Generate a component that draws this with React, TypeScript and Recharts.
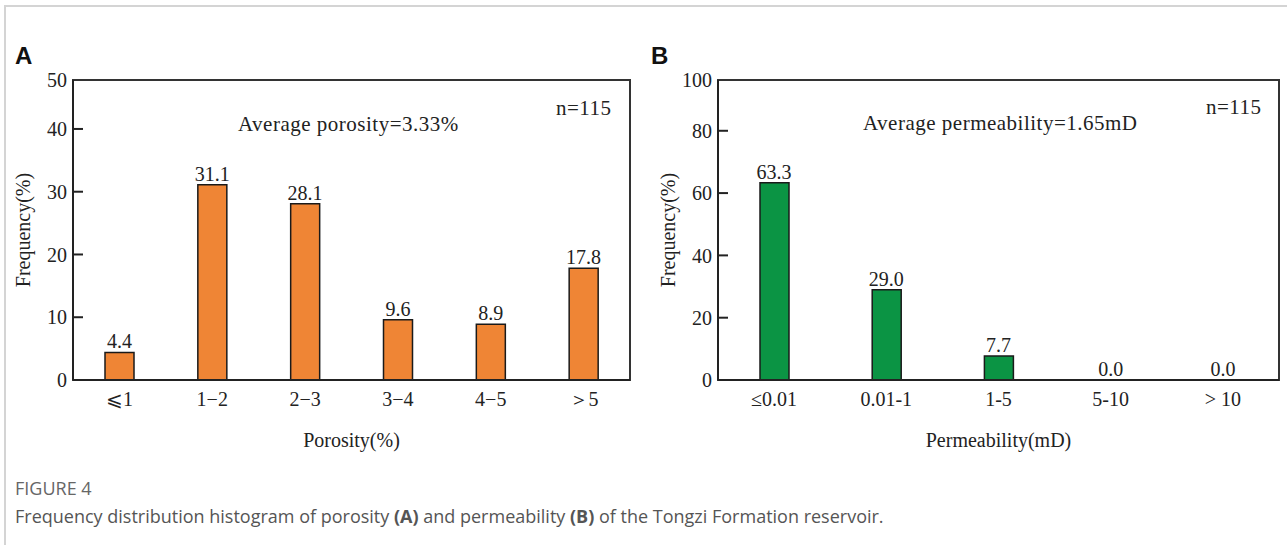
import { ComposedChart, Bar, Line, XAxis, YAxis, LabelList, Label, ReferenceArea } from 'recharts';

// Panel A: porosity
const porosityBins = ['⩽1', '1−2', '2−3', '3−4', '4−5', '＞5'];
const porosityFreq = [4.4, 31.1, 28.1, 9.6, 8.9, 17.8];
// the frame top sits a little below a true 50 in the source figure
const porosityTicks = [0, 10, 20, 30, 40, 47.8];
const porosityTickText = ['0', '10', '20', '30', '40', '50'];

// Panel B: permeability
const permBins = ['≤0.01', '0.01-1', '1-5', '5-10', '> 10'];
const permFreq = [63.3, 29.0, 7.7, 0.0, 0.0];
const permTicks = [0, 20, 40, 60, 80, 96.3];
const permTickText = ['0', '20', '40', '60', '80', '100'];

const SERIF = '"Liberation Serif", "Times New Roman", serif';
const INK = '#222';

function YTick(props: any) {
  const { x, y, payload, ticks, labels } = props;
  const i = ticks.indexOf(payload.value);
  const isTop = i === ticks.length - 1;
  return (
    <g>
      {!isTop && payload.value !== 0 && (
        <line x1={x + 6} x2={x + 16} y1={y} y2={y} stroke={INK} strokeWidth={2} />
      )}
      <text x={x} y={y} dy="0.36em" textAnchor="end" fontFamily={SERIF} fontSize={20} fill={INK}>
        {labels[i]}
      </text>
    </g>
  );
}

interface HistProps {
  bins: string[];
  values: number[];
  ticks: number[];
  tickText: string[];
  color: string;
  xTitle: string;
  width: number;
  marginRight: number;
}

function Histogram({ bins, values, ticks, tickText, color, xTitle, width, marginRight }: HistProps) {
  const data = bins.map((bin, i) => ({ bin, freq: values[i] }));
  const top = ticks[ticks.length - 1];
  return (
    <ComposedChart
      width={width}
      height={470}
      data={data}
      margin={{ top: 80, right: marginRight, bottom: 20, left: 13 }}
      barCategoryGap={0}
    >
      <XAxis
        dataKey="bin"
        height={70}
        tickLine={false}
        tickSize={0}
        tickMargin={12}
        axisLine={{ stroke: INK, strokeWidth: 2 }}
        tick={{ fontFamily: SERIF, fontSize: 20, fill: INK }}
        interval={0}
      >
        <Label
          value={xTitle}
          position="insideBottom"
          offset={3}
          style={{ fontFamily: SERIF, fontSize: 20, fill: INK }}
        />
      </XAxis>
      <YAxis
        type="number"
        domain={[0, top]}
        ticks={ticks}
        width={60}
        tickSize={0}
        tickMargin={6}
        tickLine={false}
        axisLine={{ stroke: INK, strokeWidth: 2 }}
        tick={<YTick ticks={ticks} labels={tickText} />}
      >
        <Label
          value="Frequency(%)"
          angle={-90}
          position="insideLeft"
          offset={10}
          style={{ textAnchor: 'middle', fontFamily: SERIF, fontSize: 20, fill: INK }}
        />
      </YAxis>
      {/* plot frame */}
      <ReferenceArea
        y1={0}
        y2={top}
        fill="none"
        stroke="#333"
        strokeWidth={2}
        ifOverflow="visible"
      />
      <Bar
        dataKey="freq"
        fill={color}
        stroke="#1a1a1a"
        strokeWidth={1.5}
        barSize={29}
        isAnimationActive={false}
      />
      {/* invisible carrier for the value labels, so 0.0 is labelled too */}
      <Line
        dataKey="freq"
        stroke="none"
        dot={false}
        activeDot={false}
        isAnimationActive={false}
      >
        <LabelList
          dataKey="freq"
          position="top"
          offset={4}
          formatter={(v: any) => Number(v).toFixed(1)}
          style={{ fontFamily: SERIF, fontSize: 20, fill: INK }}
        />
      </Line>
    </ComposedChart>
  );
}

const note = (left: number, top: number, text: string) => (
  <div
    style={{
      position: 'absolute',
      left,
      top,
      fontFamily: SERIF,
      fontSize: 21,
      letterSpacing: 0.5,
      lineHeight: '20px',
      color: INK,
      whiteSpace: 'nowrap',
    }}
  >
    {text}
  </div>
);

const panelLetter = (left: number, text: string) => (
  <div
    style={{
      position: 'absolute',
      left,
      top: 44,
      fontFamily: '"Liberation Sans", Arial, sans-serif',
      fontWeight: 'bold',
      fontSize: 24,
      lineHeight: '24px',
      color: '#111',
    }}
  >
    {text}
  </div>
);

export default function App() {
  return (
    <div
      style={{
        position: 'absolute',
        left: 0,
        top: 0,
        width: 1287,
        height: 545,
        background: '#fff',
        overflow: 'hidden',
      }}
    >
      <div
        style={{
          position: 'absolute',
          left: 4,
          top: 5,
          width: 1300,
          height: 560,
          borderLeft: '2px solid #d4d4d4',
          borderTop: '2px solid #d4d4d4',
        }}
      />

      <div style={{ position: 'absolute', left: 0, top: 0 }}>
        <Histogram
          bins={porosityBins}
          values={porosityFreq}
          ticks={porosityTicks}
          tickText={porosityTickText}
          color="#EF8535"
          xTitle="Porosity(%)"
          width={660}
          marginRight={30}
        />
      </div>
      <div style={{ position: 'absolute', left: 645, top: 0 }}>
        <Histogram
          bins={permBins}
          values={permFreq}
          ticks={permTicks}
          tickText={permTickText}
          color="#0B9444"
          xTitle="Permeability(mD)"
          width={642}
          marginRight={8}
        />
      </div>

      {panelLetter(15, 'A')}
      {panelLetter(651, 'B')}

      {note(556, 98, 'n=115')}
      {note(238, 114, 'Average porosity=3.33%')}
      {note(1206, 97, 'n=115')}
      {note(863, 113, 'Average permeability=1.65mD')}

      <div
        style={{
          position: 'absolute',
          left: 15,
          top: 477,
          fontFamily: '"Open Sans", sans-serif',
          fontSize: 18,
          lineHeight: '22px',
          color: '#666',
        }}
      >
        FIGURE 4
      </div>
      <div
        style={{
          position: 'absolute',
          left: 15,
          top: 505,
          fontFamily: '"Open Sans", sans-serif',
          fontSize: 18,
          lineHeight: '22px',
          color: '#555',
          whiteSpace: 'nowrap',
        }}
      >
        Frequency distribution histogram of porosity <b>(A)</b> and permeability <b>(B)</b> of the Tongzi
        Formation reservoir.
      </div>
    </div>
  );
}
